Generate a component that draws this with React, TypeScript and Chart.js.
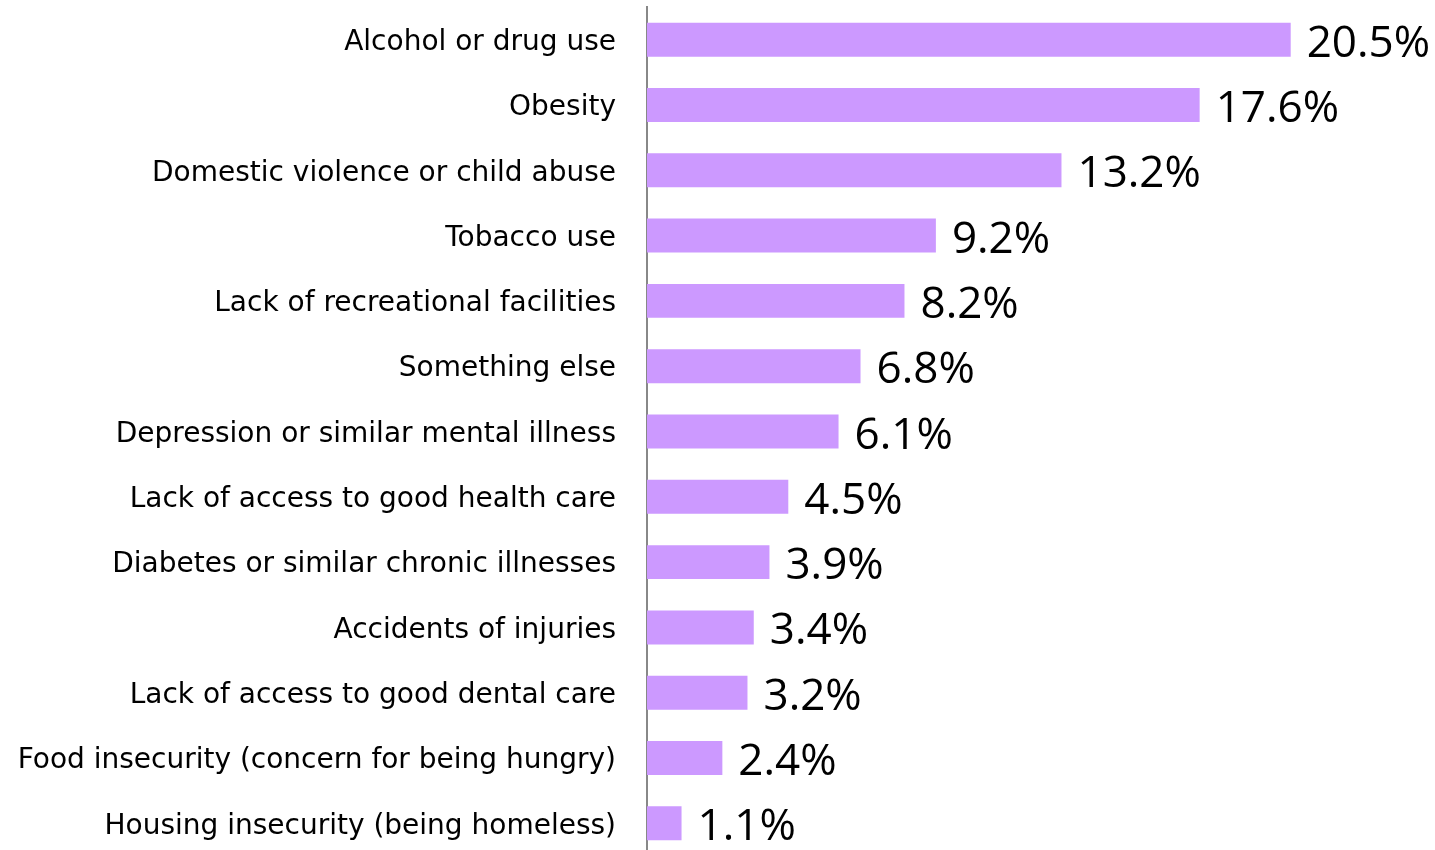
import React, { useEffect, useRef } from "react";
import { Chart, registerables } from "chart.js";

Chart.register(...registerables);

const categories = [
  "Alcohol or drug use",
  "Obesity",
  "Domestic violence or child abuse",
  "Tobacco use",
  "Lack of recreational facilities",
  "Something else",
  "Depression or similar mental illness",
  "Lack of access to good health care",
  "Diabetes or similar chronic illnesses",
  "Accidents of injuries",
  "Lack of access to good dental care",
  "Food insecurity (concern for being hungry)",
  "Housing insecurity (being homeless)",
];

const values = [20.5, 17.6, 13.2, 9.2, 8.2, 6.8, 6.1, 4.5, 3.9, 3.4, 3.2, 2.4, 1.1];

const valueLabels = ["20.5%", "17.6%", "13.2%", "9.2%", "8.2%", "6.8%", "6.1%", "4.5%", "3.9%", "3.4%", "3.2%", "2.4%", "1.1%"];

const barColor = "#CC99FF";

const valueLabelPlugin = {
  id: "valueLabels",
  afterDatasetsDraw(chart: any) {
    const ctx = chart.ctx;
    const meta = chart.getDatasetMeta(0);
    ctx.save();
    ctx.font = "44px 'Open Sans'";
    ctx.fillStyle = "#000";
    ctx.textAlign = "left";
    ctx.textBaseline = "alphabetic";
    meta.data.forEach((bar: any, i: number) => {
      ctx.fillText(valueLabels[i], bar.x + 16, bar.y + 17);
    });
    ctx.restore();
  },
};

export default function App() {
  const ref = useRef<HTMLCanvasElement | null>(null);
  useEffect(() => {
    if (!ref.current) return;
    const chart = new Chart(ref.current, {
      type: "bar",
      data: {
        labels: categories,
        datasets: [
          {
            data: values,
            backgroundColor: barColor,
            borderWidth: 0,
            categoryPercentage: 1,
            barPercentage: 0.52,
          },
        ],
      },
      options: {
        indexAxis: "y",
        animation: false,
        responsive: false,
        layout: { padding: { top: 7, bottom: 4, right: 3, left: 0 } },
        plugins: {
          legend: { display: false },
          tooltip: { enabled: false },
        },
        scales: {
          x: {
            display: false,
            min: 0,
            max: 25,
          },
          y: {
            afterFit: (scale: any) => {
              scale.width = 647;
              scale.paddingTop = 0;
              scale.paddingBottom = 0;
            },
            grid: { display: false, drawTicks: false },
            border: { display: true, color: "#888888", width: 2 },
            ticks: {
              color: "#000",
              padding: 31,
              labelOffset: 3,
              font: { family: "'DejaVu Sans'", size: 28 },
              autoSkip: false,
            },
          },
        },
      },
      plugins: [valueLabelPlugin],
    });
    return () => chart.destroy();
  }, []);
  return (
    <div style={{ position: "fixed", left: 0, top: 0, width: 1435, height: 850, overflow: "hidden", background: "#fff" }}>
      <canvas ref={ref} width={1435} height={860} style={{ display: "block" }} />
    </div>
  );
}
